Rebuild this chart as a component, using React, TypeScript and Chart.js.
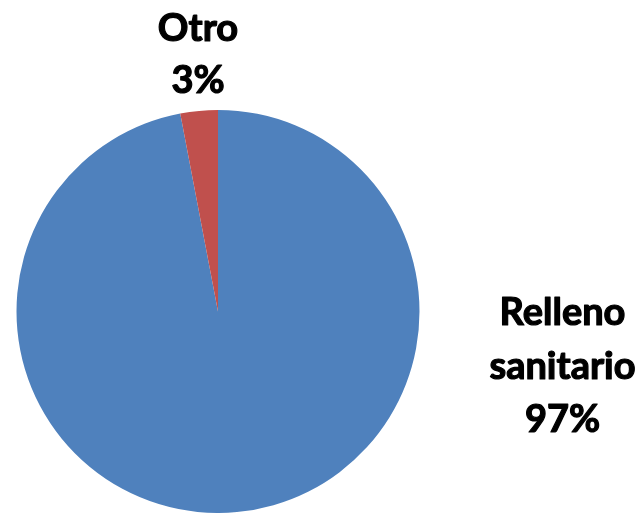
import React, { useEffect, useRef } from "react";
import { Chart, registerables } from "chart.js";

Chart.register(...registerables);

const categories = ["Relleno sanitario", "Otro"];
const values = [97, 3];
const colors = ["#4F81BD", "#C0504D"];
const labelLines = [["Relleno", "sanitario", "97%"], ["Otro", "3%"]];

const labelPlugin = {
  id: "sliceLabels",
  afterDraw(chart: any) {
    const ctx = chart.ctx;
    const meta = chart.getDatasetMeta(0);
    const arc0 = meta.data[0];
    const cx = arc0.x;
    const cy = arc0.y;
    const r = arc0.outerRadius;
    ctx.save();
    ctx.fillStyle = "#000";
    ctx.strokeStyle = "#000";
    ctx.lineWidth = 1.2;
    ctx.lineJoin = "round";
    ctx.font = "bold 38px Lato";
    ctx.textAlign = "center";
    ctx.textBaseline = "alphabetic";
    const draw = (t: string, x: number, y: number) => {
      ctx.fillText(t, x, y);
      ctx.strokeText(t, x, y);
    };
    const lh = 53.5;
    const ax = cx + r + 143;
    const ay = cy + 13.5;
    labelLines[0].forEach((t, i) => draw(t, ax, ay + i * lh));
    const bx = cx - 20;
    const by = cy - r - 69.5;
    labelLines[1].forEach((t, i) => draw(t, bx, by + i * 52));
    ctx.restore();
  },
};

export default function App() {
  const ref = useRef<HTMLCanvasElement>(null);
  useEffect(() => {
    if (!ref.current) return;
    const chart = new Chart(ref.current, {
      type: "pie",
      data: {
        labels: categories,
        datasets: [
          {
            data: values,
            backgroundColor: colors,
            borderWidth: 0,
          },
        ],
      },
      options: {
        animation: false,
        responsive: false,
        rotation: 0,
        layout: { padding: { left: 16, right: 221, top: 110, bottom: 0 } },
        plugins: { legend: { display: false }, tooltip: { enabled: false } },
      },
      plugins: [labelPlugin],
    });
    return () => chart.destroy();
  }, []);
  return (
    <div style={{ position: "fixed", left: 0, top: 0, width: 641, height: 513, background: "#fff" }}>
      <canvas ref={ref} width={641} height={513} />
    </div>
  );
}
